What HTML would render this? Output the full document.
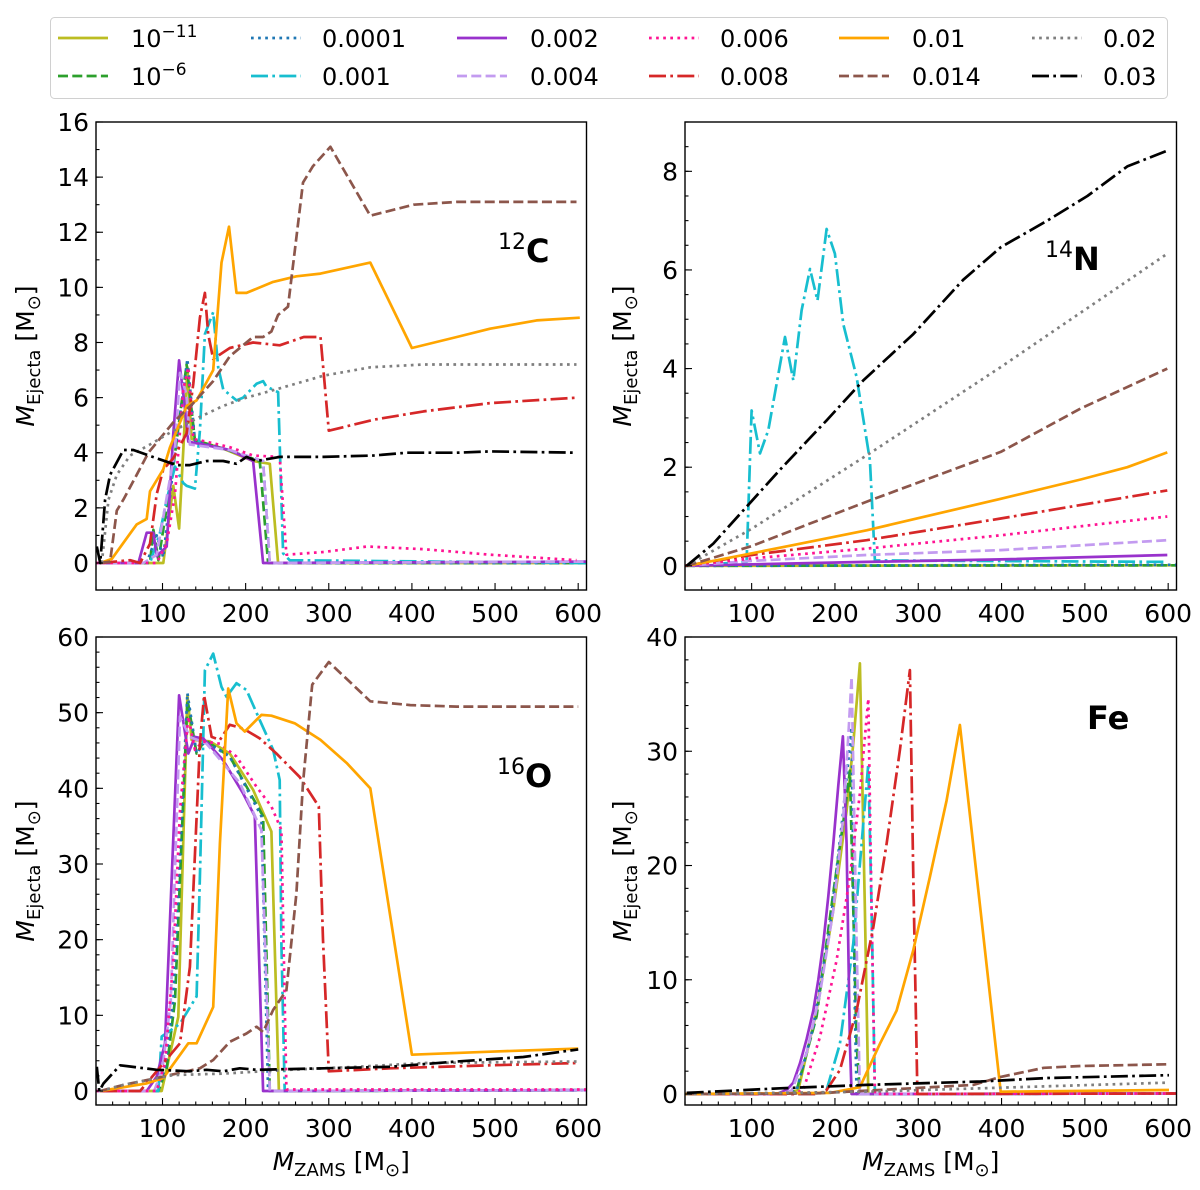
<!DOCTYPE html>
<html><head><meta charset="utf-8">
<style>
html,body{margin:0;padding:0;background:#fff;}
svg{display:block;font-family:"DejaVu Sans","Liberation Sans",sans-serif;}
</style></head>
<body>
<svg id="fig" width="1200" height="1190" viewBox="0 0 1200 1190" xmlns="http://www.w3.org/2000/svg">
<g id="legend"></g>
<g id="panels"></g>
</svg>
<script>
// ---------- data ----------
const seriesNames = ["1e-11","1e-6","0.0001","0.001","0.002","0.004","0.006","0.008","0.01","0.014","0.02","0.03"];
const seriesColors = ["#bcbd22","#2ca02c","#1f77b4","#17becf","#9932cc","#c39bf0","#ff1493","#d62728","#ffa500","#8c564b","#7f7f7f","#000000"];
const seriesStyles = ["solid","dashed","dotted","dashdot","solid","dashed","dotted","dashdot","solid","dashed","dotted","dashdot"];
const xTicks = [100,200,300,400,500,600];

// Panel 12C: [mass, value] pairs per series
const c12_z1e11 = [[20,0],[101,0],[113,2.8],[120,1.25],[125,4.1],[130,7.1],[135,4.5],[173,4.15],[209,3.7],[229,3.6],[239,0],[610,0]];
const c12_z1e6 = [[20,0],[85,0],[89,1.2],[95,0.1],[113,3.5],[129,7.2],[139,4.45],[173,4.15],[217,3.7],[227,0],[610,0]];
const c12_z1e4 = [[20,0],[81,0],[93,1.0],[101,0.2],[113,3.5],[130,7.4],[139,4.45],[173,4.15],[221,3.7],[229,0],[610,0]];
const c12_z001 = [[20,0],[85,0],[97,1.1],[105,2.3],[115,3.5],[125,2.9],[129,2.8],[139,2.7],[145,4.8],[151,8.3],[161,9.1],[167,7.1],[173,6.3],[189,5.9],[197,6.0],[213,6.5],[221,6.6],[225,6.4],[239,6.2],[245,0.35],[253,0.1],[610,0]];
const c12_z002 = [[20,0],[71,0],[81,1.1],[89,1.1],[93,0.25],[105,0.6],[113,4.7],[120,7.35],[126,5.9],[131,4.4],[149,4.3],[181,4.1],[209,3.7],[221,0],[610,0.05]];
const c12_z004 = [[20,0],[77,0],[93,0.3],[115,4.1],[121,6.9],[129,6.1],[133,4.3],[181,4.1],[221,3.7],[229,0],[610,0.05]];
const c12_z006 = [[20,0],[93,0],[105,0.7],[115,2.5],[125,6.3],[131,7.1],[137,4.5],[153,4.4],[181,4.2],[209,3.9],[241,3.85],[249,0.3],[294,0.4],[346,0.6],[414,0.5],[494,0.3],[598,0.1]];
const c12_z008 = [[25,0],[61,0.1],[73,0],[85,0.7],[93,2.5],[101,3.4],[113,3.8],[129,4.7],[137,6.5],[145,8.9],[151,9.8],[155,8.3],[161,7.4],[181,7.8],[209,8.0],[241,7.9],[270,8.2],[290,8.2],[300,4.8],[354,5.2],[414,5.5],[494,5.8],[600,6.0]];
const c12_z01 = [[25,0],[39,0.15],[69,1.4],[81,1.6],[85,2.6],[101,3.4],[109,4.2],[129,5.7],[141,5.9],[161,7.0],[171,10.9],[180,12.2],[189,9.8],[201,9.8],[233,10.2],[261,10.4],[290,10.5],[350,10.9],[400,7.8],[454,8.2],[494,8.5],[550,8.8],[602,8.9]];
const c12_z014 = [[25,0],[37,0.05],[45,1.9],[53,2.3],[69,3.2],[83,4.0],[113,5.1],[137,5.8],[161,6.6],[181,7.5],[209,8.2],[221,8.2],[231,8.4],[239,9.0],[251,9.3],[259,11.3],[269,13.8],[281,14.4],[302,15.1],[350,12.6],[402,13.0],[454,13.1],[598,13.1]];
const c12_z02 = [[27,0],[35,2.3],[45,3.2],[61,3.9],[85,4.3],[113,4.8],[145,5.3],[173,5.7],[201,6.0],[237,6.3],[294,6.8],[350,7.1],[414,7.2],[598,7.2]];
const c12_z03 = [[21,0.6],[25,0],[31,2.3],[37,3.2],[53,4.1],[65,4.1],[93,3.8],[117,3.55],[133,3.55],[153,3.7],[173,3.7],[189,3.6],[201,3.85],[213,3.7],[241,3.85],[294,3.85],[354,3.9],[394,4.0],[454,4.0],[494,4.05],[598,4.0]];

// Panel 14N
const n14_z1e11 = [[20,0],[610,0.01]];
const n14_z1e6 = [[20,0],[610,0.01]];
const n14_z1e4 = [[20,0],[610,0.02]];
const n14_z001 = [[20,0],[94,0.08],[100,3.15],[110,2.28],[120,2.75],[140,4.64],[150,3.76],[160,5.18],[170,6.02],[179,5.38],[190,6.83],[200,6.33],[210,4.9],[226,3.83],[242,2.14],[248,0.11],[599,0.08]];
const n14_z002 = [[20,0],[238,0.08],[399,0.13],[599,0.22]];
const n14_z004 = [[20,0],[100,0.1],[238,0.22],[399,0.32],[599,0.52]];
const n14_z006 = [[20,0],[100,0.15],[238,0.35],[399,0.62],[599,1.0]];
const n14_z008 = [[20,0],[100,0.22],[238,0.52],[399,0.96],[599,1.53]];
const n14_z01 = [[22,0],[60,0.12],[150,0.42],[238,0.72],[399,1.36],[495,1.75],[551,2.0],[599,2.3]];
const n14_z014 = [[22,0],[100,0.4],[238,1.3],[399,2.31],[495,3.19],[599,4.0]];
const n14_z02 = [[22,0],[100,0.75],[238,2.24],[399,4.03],[599,6.33]];
const n14_z03 = [[22,0],[54,0.45],[94,1.2],[134,1.95],[190,2.95],[234,3.76],[294,4.7],[354,5.8],[399,6.46],[455,7.0],[503,7.5],[551,8.1],[599,8.42]];

// Panel 16O
const o16_z1e11 = [[20,0],[99,0],[119,9.8],[130,52.3],[135,46.4],[157,46.2],[181,44.6],[209,39.8],[231,34.3],[240,0],[610,0.1]];
const o16_z1e6 = [[20,0],[95,0],[105,3],[115,12],[130,51.7],[141,44.6],[151,46.4],[181,44.2],[221,36.3],[229,0],[610,0.1]];
const o16_z1e4 = [[20,0],[93,0],[103,3],[113,12],[130,52.6],[141,44.6],[151,46.2],[181,44.2],[219,36.3],[227,0],[610,0.1]];
const o16_z001 = [[20,0],[95,0],[99,7.2],[121,8.9],[141,12.5],[145,28.3],[151,55.6],[161,57.8],[171,53.4],[177,52.1],[189,53.9],[201,53.0],[217,49.0],[233,45.1],[241,41.1],[243,19.5],[247,0],[610,0.1]];
const o16_z002 = [[20,0],[81,0],[93,1.9],[103,6.3],[120,52.3],[131,44.6],[139,46.8],[149,46.6],[173,43.7],[197,39.3],[211,36.3],[221,0],[610,0.1]];
const o16_z004 = [[20,0],[90,0],[100,3],[110,12],[121,49.5],[133,46.8],[153,45.9],[193,40.7],[219,34.5],[229,0],[610,0.1]];
const o16_z006 = [[20,0],[93,0],[103,3.7],[113,17.3],[121,37.1],[131,49.5],[139,45.1],[149,46.2],[169,45.9],[189,44.2],[213,40.2],[231,37.6],[243,34.5],[249,0.2],[610,0.2]];
const o16_z008 = [[25,0],[73,0],[93,2.6],[111,5.0],[121,6.3],[133,16.4],[145,45.9],[150,52.3],[159,46.8],[169,46.4],[181,48.4],[197,47.9],[217,46.6],[237,44.6],[265,41.5],[288,37.6],[293,20.0],[300,2.6],[374,3.0],[494,3.4],[600,3.7]];
const o16_z01 = [[25,0],[81,1.0],[101,1.7],[131,6.3],[141,6.3],[161,11.1],[169,32.7],[179,53.2],[189,48.6],[199,47.5],[219,49.7],[231,49.6],[259,48.6],[290,46.4],[322,43.3],[350,40.0],[400,4.8],[494,5.2],[600,5.6]];
const o16_z014 = [[25,0],[53,0.8],[93,1.7],[145,3.0],[161,4.1],[181,6.5],[201,7.6],[213,8.5],[221,7.8],[233,10.7],[249,13.3],[261,26.1],[269,40.7],[280,53.7],[300,56.7],[350,51.5],[398,51.0],[454,50.8],[600,50.8]];
const o16_z02 = [[25,0],[53,0.8],[113,2.1],[173,2.3],[253,2.8],[334,3.2],[414,3.7],[600,3.9]];
const o16_z03 = [[21,3.2],[24,0],[29,1.0],[49,3.4],[93,2.8],[133,2.6],[153,2.8],[173,2.6],[193,3.0],[213,2.8],[294,3.0],[374,3.2],[454,3.9],[534,4.5],[600,5.5]];

// Panel Fe
const fe_z1e11 = [[20,0],[140,0],[156,0.35],[178,7.3],[198,16.1],[214,24.8],[222,30.7],[230,37.7],[236,16.1],[240,0],[610,0.05]];
const fe_z1e6 = [[20,0],[140,0],[154,0.3],[178,6.8],[198,17.6],[212,24.8],[218,28.3],[226,4.4],[230,0],[610,0.05]];
const fe_z1e4 = [[20,0],[140,0],[154,0.3],[174,5.9],[194,14.6],[210,24.8],[220,32.1],[224,7.3],[226,0],[610,0.05]];
const fe_z001 = [[20,0],[180,0],[190,0.35],[206,4.4],[222,13.2],[232,21.9],[240,28.9],[244,16.1],[248,0],[610,0.05]];
const fe_z002 = [[20,0],[130,0],[142,0.35],[150,1.0],[158,2.7],[166,4.8],[174,7.3],[180,10],[186,13.2],[192,17.3],[198,21.9],[204,27],[209.5,31.3],[214,21.9],[218,4.4],[220,0],[610,0.05]];
const fe_z004 = [[20,0],[135,0],[148,0.3],[166,3.6],[182,8.8],[198,16.1],[210,24.3],[216,31.3],[220,36.5],[226,13.2],[230,0],[610,0.05]];
const fe_z006 = [[20,0],[150,0],[162,0.35],[182,5.0],[202,11.7],[218,19.0],[230,26.3],[240,34.6],[244,16.1],[248,0],[610,0.05]];
const fe_z008 = [[20,0],[180,0],[190,0.35],[206,2.1],[226,7.3],[246,14.6],[262,21.9],[278,30.1],[290,37.1],[294,19.0],[299,0],[610,0.05]];
const fe_z01 = [[20,0],[194,0.1],[230,0.6],[254,4.4],[274,7.3],[294,12.6],[314,19.0],[334,25.7],[350,32.3],[399,0.2],[601,0.35]];
const fe_z014 = [[22,0],[174,0.05],[254,0.35],[366,0.8],[399,1.5],[451,2.3],[495,2.45],[599,2.6]];
const fe_z02 = [[22,0],[238,0.2],[375,0.5],[601,1.0]];
const fe_z03 = [[22,0.1],[134,0.5],[238,0.8],[375,1.1],[455,1.4],[601,1.65]];

const panelData = {
  c12:[c12_z1e11,c12_z1e6,c12_z1e4,c12_z001,c12_z002,c12_z004,c12_z006,c12_z008,c12_z01,c12_z014,c12_z02,c12_z03],
  n14:[n14_z1e11,n14_z1e6,n14_z1e4,n14_z001,n14_z002,n14_z004,n14_z006,n14_z008,n14_z01,n14_z014,n14_z02,n14_z03],
  o16:[o16_z1e11,o16_z1e6,o16_z1e4,o16_z001,o16_z002,o16_z004,o16_z006,o16_z008,o16_z01,o16_z014,o16_z02,o16_z03],
  fe:[fe_z1e11,fe_z1e6,fe_z1e4,fe_z001,fe_z002,fe_z004,fe_z006,fe_z008,fe_z01,fe_z014,fe_z02,fe_z03]
};
const c12Ticks = [0,2,4,6,8,10,12,14,16];
const n14Ticks = [0,2,4,6,8];
const o16Ticks = [0,10,20,30,40,50,60];
const feTicks = [0,10,20,30,40];

// ---------- rendering ----------
const NS = "http://www.w3.org/2000/svg";
const svg = document.getElementById('fig');
function mk(tag, attrs, parent){ const e=document.createElementNS(NS,tag); for(const k in attrs) e.setAttribute(k,attrs[k]); if(parent) parent.appendChild(e); return e; }
function dashFor(s){ if(s==="dashed") return "10 4.3"; if(s==="dotted") return "2.7 4.4"; if(s==="dashdot") return "17 4.3 2.7 4.3"; return "none"; }

const panels = [
  {key:'c12', name:'c12-panel', L:96, R:586.5, T:122, B:590, ymin:-0.98, ymax:16, ticks:c12Ticks, minorStep:1, xlab:false, ylabX:25, lab:['12','C'], labX:498, labY:262},
  {key:'n14', name:'n14-panel', L:685, R:1176.5, T:122, B:590, ymin:-0.49, ymax:9, ticks:n14Ticks, minorStep:0.5, xlab:false, ylabX:622, lab:['14','N'], labX:1045, labY:270},
  {key:'o16', name:'o16-panel', L:96, R:586.5, T:637, B:1105, ymin:-1.85, ymax:60, ticks:o16Ticks, minorStep:2, xlab:true, ylabX:25, lab:['16','O'], labX:497, labY:787},
  {key:'fe', name:'fe-panel', L:685, R:1176.5, T:637, B:1105, ymin:-0.96, ymax:40, ticks:feTicks, minorStep:2, xlab:true, ylabX:622, lab:['','Fe'], labX:1087, labY:729}
];
const panelsG = document.getElementById('panels');
panels.forEach((p,pi)=>{
  const g = mk('g',{},panelsG);
  
  
  const sx = m => p.L + (m-20)/(610-20)*(p.R-p.L);
  const sy = v => p.B - (v-p.ymin)/(p.ymax-p.ymin)*(p.B-p.T);
  const cid = 'clip'+pi;
  const cp = mk('clipPath',{id:cid},g); mk('rect',{x:p.L,y:p.T,width:p.R-p.L,height:p.B-p.T},cp);
  const lines = mk('g',{'clip-path':'url(#'+cid+')'},g);
  panelData[p.key].forEach((pts,si)=>{
    const d = pts.map((q,i)=>(i?'L':'M')+sx(q[0]).toFixed(1)+','+sy(q[1]).toFixed(1)).join(' ');
    const path = mk('path',{d:d,fill:'none',stroke:seriesColors[si],'stroke-width':2.7,'stroke-linejoin':'round','stroke-dasharray':dashFor(seriesStyles[si])},lines);
    
    
  });
  const fr = mk('rect',{x:p.L,y:p.T,width:p.R-p.L,height:p.B-p.T,fill:'none',stroke:'#000','stroke-width':1.4},g);
  
  
  const xt = mk('g',{},g);
  
  
  for(let m=20;m<=610;m+=20){ const major = xTicks.indexOf(m)>=0; mk('line',{x1:sx(m),x2:sx(m),y1:p.B,y2:p.B-(major?7:3.5),stroke:'#000','stroke-width':1.1},xt); }
  xTicks.forEach(m=>{ const t=mk('text',{x:sx(m),y:p.B+32,'text-anchor':'middle','font-size':25,fill:'#000'},xt); t.textContent=m;
      });
  const yt = mk('g',{},g);
  
  
  for(let v=0; v<=p.ymax+1e-9; v+=p.minorStep){ mk('line',{x1:p.L,x2:p.L+3.5,y1:sy(v),y2:sy(v),stroke:'#000','stroke-width':1.1},yt); }
  p.ticks.forEach(v=>{ mk('line',{x1:p.L,x2:p.L+7,y1:sy(v),y2:sy(v),stroke:'#000','stroke-width':1.1},yt);
    const t=mk('text',{x:p.L-7,y:sy(v)+9,'text-anchor':'end','font-size':25,fill:'#000'},yt); t.textContent=v;
      });
  const cy=(p.T+p.B)/2;
  const yl = mk('text',{x:p.ylabX,y:cy,'text-anchor':'middle','font-size':25,fill:'#000',transform:`rotate(-90 ${p.ylabX} ${cy})`,dy:9},g);
  yl.innerHTML='<tspan font-style="italic">M</tspan><tspan font-size="18" dy="6">Ejecta</tspan><tspan dy="-6"> [M</tspan><tspan font-size="18" dy="6">⊙</tspan><tspan dy="-6">]</tspan>';
  
  
  if(p.xlab){
    const cx=(p.L+p.R)/2;
    const xl = mk('text',{x:cx,y:1170,'text-anchor':'middle','font-size':25,fill:'#000'},g);
    xl.innerHTML='<tspan font-style="italic">M</tspan><tspan font-size="18" dy="6">ZAMS</tspan><tspan dy="-6"> [M</tspan><tspan font-size="18" dy="6">⊙</tspan><tspan dy="-6">]</tspan>';
    
    
  }
  const lb = mk('text',{x:p.labX,y:p.labY,'font-size':32,'font-weight':'bold',fill:'#000'},g);
  lb.innerHTML = (p.lab[0]?'<tspan font-size="22" font-weight="normal" dy="-13">'+p.lab[0]+'</tspan><tspan dy="13">'+p.lab[1]+'</tspan>':p.lab[1]);
  
  
});

// legend
const lg = document.getElementById('legend');
mk('rect',{x:50.5,y:17.5,width:1117,height:81,rx:4,fill:'#fff',stroke:'#d0d0d0','stroke-width':1},lg);
const colHandle = [58,251,457,649,839,1032];
const colText = [131,322,530,720,912,1103];
const rowY = [38,76];
const legendLabels = ['10<tspan font-size="17" dy="-10">−11</tspan>','10<tspan font-size="17" dy="-10">−6</tspan>','0.0001','0.001','0.002','0.004','0.006','0.008','0.01','0.014','0.02','0.03'];
seriesNames.forEach((n,i)=>{
  const c=Math.floor(i/2), r=i%2;
  const eg = mk('g',{},lg);
  
  
  mk('line',{x1:colHandle[c],x2:colHandle[c]+50,y1:rowY[r],y2:rowY[r],stroke:seriesColors[i],'stroke-width':2.7,'stroke-dasharray':dashFor(seriesStyles[i])},eg);
  const t=mk('text',{x:colText[c],y:rowY[r]+9,'font-size':24,fill:'#000'},eg);
  t.innerHTML=legendLabels[i];
});
</script>
</body></html>
